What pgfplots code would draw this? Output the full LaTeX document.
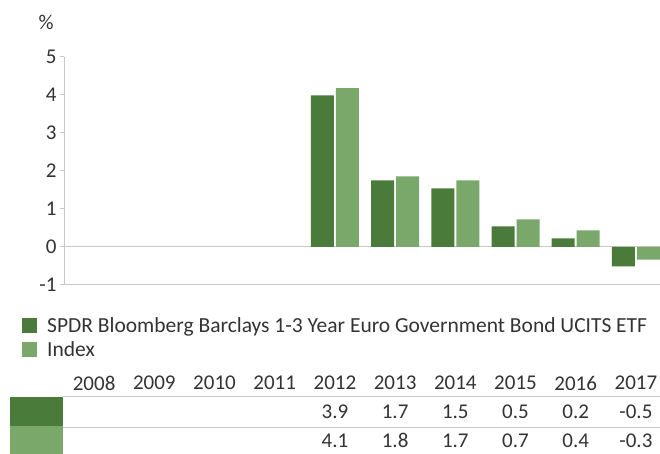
\documentclass[border=0pt]{standalone}
\usepackage{fontspec}
\setmainfont{Carlito}
\usepackage{pgfplots}
\pgfplotsset{compat=1.18}
\definecolor{etf}{HTML}{4A7B3A}
\definecolor{idx}{HTML}{7AA86B}
\definecolor{axisgray}{HTML}{C8C8C8}
\definecolor{txt}{HTML}{333333}
\newcommand\cf{\fontsize{21bp}{25bp}\selectfont}
\newcommand\lf{\fontsize{21.5bp}{25bp}\selectfont}
\begin{document}
\begin{tikzpicture}[x=1bp,y=1bp]
\path[use as bounding box] (0,0) rectangle (660,454);
\begin{axis}[
    at={(64bp,169bp)}, anchor=south west,
    scale only axis, width=596bp, height=228bp,
    xmin=-0.5, xmax=9.4, ymin=-1, ymax=5,
    ybar=2bp, bar width=23bp,
    axis x line=bottom, axis y line=left,
    axis line style={draw=axisgray, line width=1bp, -},
    xtick=\empty,
    ytick={-1,0,...,5},
    tick align=outside, major tick length=4bp,
    tick style={draw=axisgray, line width=1bp},
    yticklabel style={font=\cf, text=txt},
    /pgf/number format/assume math mode=true,
    extra y ticks={0}, extra y tick labels={},
    extra y tick style={grid=major, major grid style={draw=axisgray, line width=1bp}},
    ylabel={\%}, ylabel style={font=\cf, text=txt, rotate=-90, at={(axis description cs:-0.030,1.153)}, anchor=center},
    clip=false,
    legend style={draw=none, fill=none, at={(axis description cs:-0.0705,-0.132)}, anchor=north west,
        font=\lf, text=txt, row sep=4bp, inner sep=0pt},
    legend cell align=left,
    legend image code/.code={\fill[#1] (0bp,-7.5bp) rectangle (15bp,7.5bp); \path (23bp,0bp);},
]
\addplot[fill=etf, draw=none] coordinates {(4,3.99) (5,1.75) (6,1.54) (7,0.54) (8,0.23) (9,-0.51)};
\addplot[fill=idx, draw=none] coordinates {(4,4.18) (5,1.86) (6,1.75) (7,0.73) (8,0.44) (9,-0.33)};
\legend{SPDR Bloomberg Barclays 1-3 Year Euro Government Bond UCITS ETF, Index}

% table below the chart
\fill[etf] (axis cs:-1.397,-3.947) rectangle (axis cs:-0.517,-4.71);
\fill[idx] (axis cs:-1.397,-4.71) rectangle (axis cs:-0.517,-5.447);
\draw[axisgray, line width=1bp] (axis cs:-0.517,-3.947) -- (axis cs:9.4,-3.947);
\draw[axisgray, line width=1bp] (axis cs:-0.517,-4.737) -- (axis cs:9.4,-4.737);
\node[font=\cf, text=txt] at (axis cs:0,-3.58) {2008};
\node[font=\cf, text=txt] at (axis cs:1,-3.58) {2009};
\node[font=\cf, text=txt] at (axis cs:2,-3.58) {2010};
\node[font=\cf, text=txt] at (axis cs:3,-3.58) {2011};
\node[font=\cf, text=txt] at (axis cs:4,-3.58) {2012};
\node[font=\cf, text=txt] at (axis cs:5,-3.58) {2013};
\node[font=\cf, text=txt] at (axis cs:6,-3.58) {2014};
\node[font=\cf, text=txt] at (axis cs:7,-3.58) {2015};
\node[font=\cf, text=txt] at (axis cs:8,-3.58) {2016};
\node[font=\cf, text=txt] at (axis cs:9,-3.58) {2017};
\node[font=\cf, text=txt] at (axis cs:4,-4.34) {3.9};
\node[font=\cf, text=txt] at (axis cs:5,-4.34) {1.7};
\node[font=\cf, text=txt] at (axis cs:6,-4.34) {1.5};
\node[font=\cf, text=txt] at (axis cs:7,-4.34) {0.5};
\node[font=\cf, text=txt] at (axis cs:8,-4.34) {0.2};
\node[font=\cf, text=txt] at (axis cs:9,-4.34) {-0.5};
\node[font=\cf, text=txt] at (axis cs:4,-5.10) {4.1};
\node[font=\cf, text=txt] at (axis cs:5,-5.10) {1.8};
\node[font=\cf, text=txt] at (axis cs:6,-5.10) {1.7};
\node[font=\cf, text=txt] at (axis cs:7,-5.10) {0.7};
\node[font=\cf, text=txt] at (axis cs:8,-5.10) {0.4};
\node[font=\cf, text=txt] at (axis cs:9,-5.10) {-0.3};
\end{axis}
\end{tikzpicture}
\end{document}
